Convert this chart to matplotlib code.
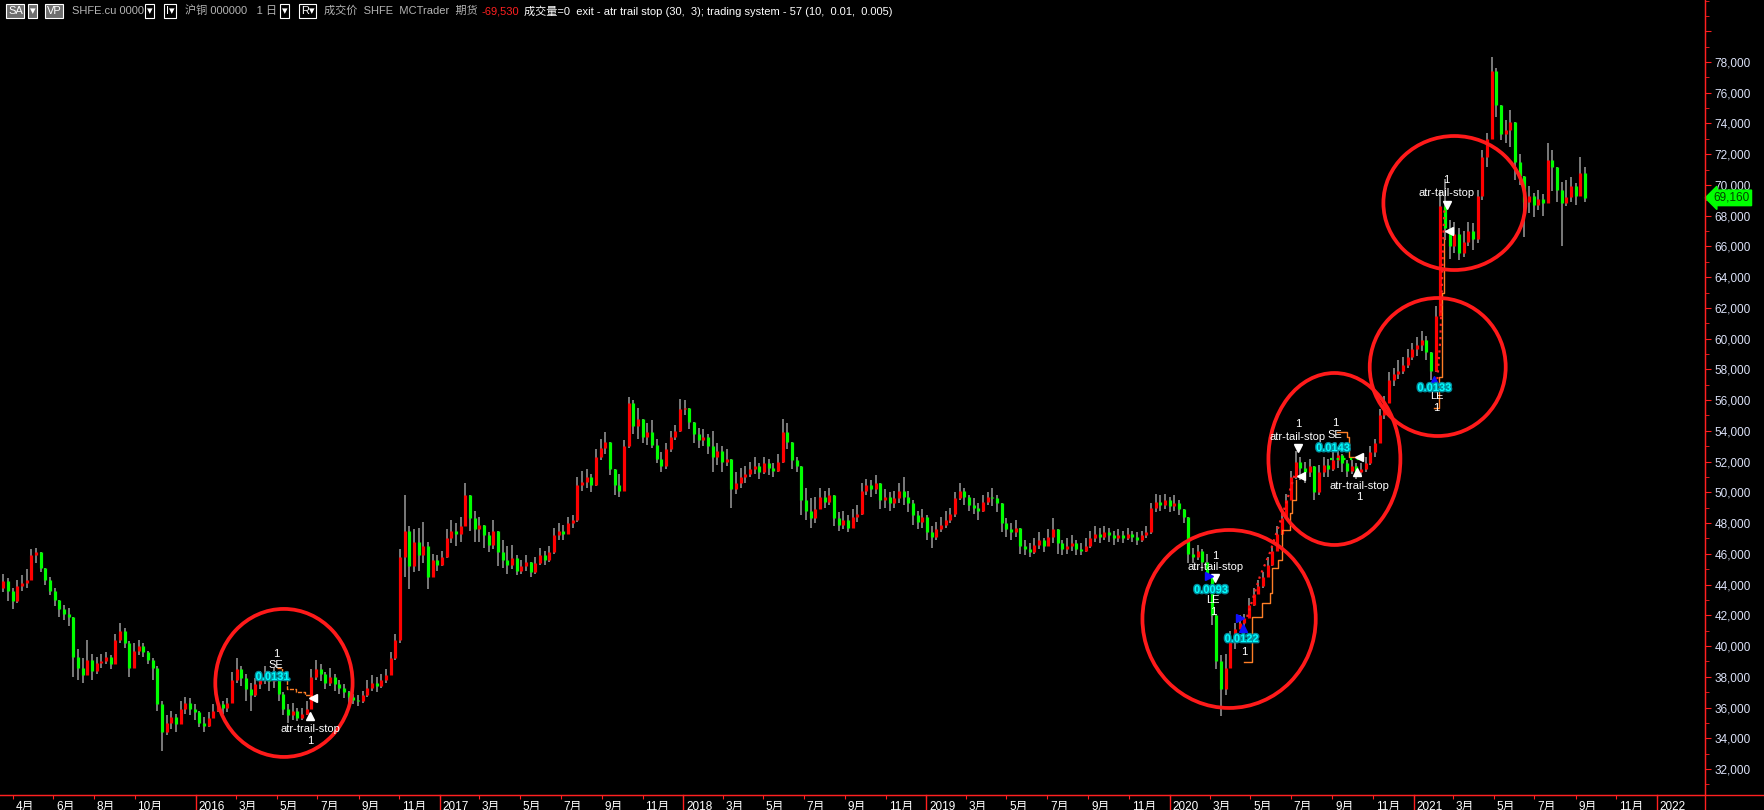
import numpy as np
import pandas as pd
import matplotlib
matplotlib.use('Agg')
import matplotlib.pyplot as plt
import matplotlib.dates as mdates
import matplotlib.transforms as mtransforms
import matplotlib.patheffects as pe
from matplotlib.patches import Ellipse
from matplotlib.lines import Line2D

plt.rcParams['font.family'] = ['Liberation Sans', 'Noto Sans CJK SC', 'DejaVu Sans']

# weekly SHFE copper bars (week ending Friday, from 2015-03-13)
closes = [
    43800, 44200, 43600, 42900, 43900, 44100, 44300, 45900, 46100, 45100,
    44300, 43600, 43000, 42400, 42100, 41900, 39300, 38600, 38100, 39100,
    38400, 38900, 39000, 39300, 38800, 40400, 41000, 40200, 38600, 39700,
    40000, 39600, 39100, 38600, 36200, 34400, 35000, 35400, 34900, 35900,
    36300, 35900, 35700, 35000, 34800, 35300, 35800, 36200, 36000, 36300,
    37800, 38500, 37900, 37200, 36800, 37500, 37900, 38300, 37700, 38100,
    36900, 35900, 35500, 35800, 35300, 35600, 35900, 38000, 38500, 38200,
    37600, 38000, 37500, 37300, 37000, 36700, 36500, 36400, 36800, 37300,
    37600, 37400, 37800, 38100, 39200, 40400, 45800, 47500, 45200, 46800,
    45900, 46500, 44500, 45600, 45300, 45800, 47000, 47500, 47300, 47800,
    49800, 48300, 47600, 47900, 47200, 46600, 47500, 46100, 45600, 45300,
    45700, 44900, 45200, 45500, 44800, 45400, 45900, 45600, 46100, 47200,
    47500, 47300, 48000, 48200, 50500, 50700, 51000, 50500, 52300, 52900,
    53300, 51500, 50500, 50100, 53000, 55800, 54300, 54800, 53600, 53900,
    53100, 52200, 51700, 52800, 53600, 54000, 55400, 55500, 54600, 53800,
    53400, 53600, 53000, 52300, 52700, 52000, 52200, 50200, 50600, 51000,
    51200, 51500, 51700, 51300, 51900, 51600, 51400, 52000, 53900, 53300,
    52100, 51700, 49500, 48800, 48300, 48900, 49700, 49400, 49800, 48300,
    47900, 48200, 47700, 48400, 48600, 50100, 50500, 50200, 50600, 49500,
    49700, 49300, 49600, 50100, 49700, 49300, 48500, 48100, 48400, 47400,
    47100, 47600, 47900, 48200, 48600, 49600, 50100, 49700, 49200, 49000,
    48800, 49400, 49700, 49600, 49300, 48000, 47600, 47400, 47700, 46500,
    46300, 46100, 46600, 46900, 46500, 47100, 47600, 46700, 46300, 46500,
    46700, 46300, 46200, 46500, 47000, 47300, 47100, 47400, 47200, 47000,
    47200, 47000, 47300, 47100, 46900, 47200, 47400, 49000, 49400, 49200,
    49500, 49100, 49300, 48900, 48400, 46000, 45800, 46200, 45500, 44600,
    42000, 39000, 37200, 38600, 40400, 41100, 41500, 41800, 42700, 43400,
    43900, 44500, 45300, 46200, 47300, 48300, 49500, 51000, 52000, 51600,
    51300, 51700, 50000, 51300, 51800, 51500, 52100, 52400, 51900, 51400,
    51700, 51300, 51500, 51900, 52600, 53200, 55000, 55800, 57300, 57700,
    57900, 58300, 58800, 59300, 59600, 59900, 59100, 57900, 61500, 68600,
    67200, 66000, 66800, 65600, 66300, 67000, 66500, 69300, 71800, 73000,
    77400, 75200, 73300, 73600, 74100, 71500, 70600, 68900, 69300, 68700,
    69100, 68800, 71600, 71200, 69700, 68800, 69200, 69900, 69300, 70800, 69160,
]
highs = [
    44500, 44700, 44400, 43800, 44300, 44600, 45000, 46300, 46400, 46000,
    45000, 44500, 43800, 42900, 42700, 42500, 41900, 39800, 39200, 40400,
    39500, 39300, 39500, 39600, 39400, 40800, 41500, 41200, 40300, 40200,
    40400, 40200, 39700, 39200, 38700, 36400, 35500, 35800, 35600, 36400,
    36700, 36600, 36200, 35800, 35400, 35700, 36200, 36500, 36400, 36600,
    38300, 39200, 38700, 38200, 37600, 37900, 38400, 38700, 38400, 38600,
    37700, 37000, 36200, 36300, 36000, 36000, 36400, 38500, 39100, 38800,
    38300, 38600, 38200, 37800, 37500, 37100, 36900, 36800, 37100, 37800,
    38100, 38000, 38200, 38500, 39600, 40800, 46300, 49800, 47800, 47600,
    47700, 48100, 46800, 46000, 45900, 46200, 47600, 48200, 48000, 48400,
    50600, 49600, 48800, 48400, 47900, 47400, 48200, 47000, 46900, 46500,
    46600, 45900, 45600, 45900, 45500, 45800, 46400, 46200, 46500, 47700,
    48000, 47900, 48400, 48500, 51000, 51400, 51500, 51200, 52800, 53500,
    53900, 53000, 51500, 51200, 53400, 56200, 56000, 55500, 54800, 54500,
    54700, 53500, 52600, 53200, 54000, 54400, 56100, 56000, 55200, 54500,
    54200, 54100, 53800, 54000, 53200, 53000, 52800, 51800, 51300, 51600,
    51700, 52000, 52300, 51900, 52300, 52200, 51900, 52500, 54800, 54500,
    52600, 52300, 51500, 50300, 49600, 49700, 50300, 50100, 50300, 49500,
    48700, 48800, 48500, 48900, 49200, 50600, 50900, 50800, 51100, 50500,
    50200, 50000, 50100, 50600, 51000, 50100, 49500, 48800, 48900, 48500,
    47800, 48100, 48400, 48800, 49000, 50000, 50600, 50300, 49800, 49600,
    49300, 49800, 50000, 50300, 49800, 48700, 48300, 48000, 48200, 47300,
    46900, 46700, 47000, 47400, 47000, 47600, 48300, 47500, 46900, 47000,
    47200, 46900, 46700, 47000, 47500, 47800, 47700, 47800, 47700, 47500,
    47600, 47500, 47700, 47500, 47400, 47500, 47800, 49300, 49900, 49800,
    49900, 49700, 49800, 49500, 48900, 46600, 46400, 46600, 46300, 46000,
    44500, 42100, 39400, 39500, 41000, 41500, 42000, 42100, 43100, 43800,
    44300, 44800, 45800, 46500, 47800, 48700, 49900, 51400, 52700, 52300,
    52000, 52200, 51300, 51800, 52300, 52200, 52700, 52800, 52500, 52100,
    52100, 51900, 51900, 52300, 53000, 53500, 55400, 56300, 57800, 58100,
    58600, 58800, 59300, 59700, 60100, 60500, 60200, 58900, 62100, 69700,
    70400, 67700, 67600, 67200, 67000, 67600, 67500, 69700, 72300, 73400,
    78300, 77600, 74500, 74200, 74900, 72800, 72000, 70300, 69900, 69500,
    69700, 69400, 72700, 72300, 70500, 70200, 70300, 70500, 70100, 71800, 71200,
]
lows = [
    43100, 43500, 42900, 42400, 42800, 43600, 43800, 44300, 45400, 44800,
    44000, 43300, 42600, 41900, 41700, 41300, 38000, 37800, 37600, 38200,
    37800, 38200, 38600, 38800, 38500, 38800, 40200, 39900, 38000, 38700,
    39400, 39300, 38800, 37800, 35800, 33200, 34200, 34600, 34400, 34900,
    35600, 35500, 35200, 34700, 34400, 34700, 35300, 35700, 35600, 35700,
    36300, 37600, 37400, 36400, 35800, 36700, 37200, 37500, 37100, 37300,
    36400, 35500, 35000, 35200, 35100, 35200, 35500, 36300, 37800, 37700,
    37200, 37400, 37100, 36900, 36600, 36300, 36200, 36100, 36300, 36700,
    37100, 37000, 37300, 37600, 38500, 39100, 40200, 44500, 43700, 44800,
    44900, 45400, 43700, 44500, 44900, 45200, 45700, 46700, 46500, 46800,
    48200, 47500, 46800, 46800, 46400, 46100, 46300, 45200, 45100, 44700,
    45000, 44600, 44700, 44900, 44500, 44700, 45300, 45300, 45500, 46000,
    46900, 46900, 47600, 47700, 48100, 50100, 50300, 50000, 50400, 52100,
    52500, 51100, 49800, 49700, 50800, 52900, 53800, 53500, 53200, 53100,
    52900, 51900, 51300, 51500, 52600, 53400, 53900, 55000, 54100, 53200,
    52900, 53000, 52500, 51300, 51800, 51300, 51700, 49000, 49900, 50300,
    50600, 51000, 51200, 50900, 51200, 51100, 51000, 51300, 51900, 52800,
    51500, 51300, 48500, 48200, 47700, 48000, 48900, 49000, 49200, 47800,
    47500, 47600, 47400, 47800, 48100, 48500, 49800, 49700, 49900, 48900,
    49000, 48800, 49000, 49300, 49200, 48700, 47900, 47600, 47700, 46900,
    46400, 46900, 47400, 47700, 48000, 48400, 49500, 49200, 48800, 48600,
    48200, 48700, 49200, 49100, 48700, 47400, 47100, 46900, 47100, 46000,
    45900, 45800, 46000, 46300, 46100, 46500, 46700, 46000, 45900, 46000,
    46200, 45900, 45900, 46100, 46400, 46800, 46700, 46900, 46800, 46600,
    46800, 46700, 46900, 46800, 46600, 46800, 47000, 47300, 48700, 48800,
    48900, 48700, 48800, 48500, 48000, 45400, 45400, 45600, 44900, 44300,
    41400, 38500, 35450, 36800, 38800, 39800, 41100, 41300, 42300, 42600,
    43400, 43800, 44700, 45200, 46200, 47200, 48400, 49600, 50900, 50800,
    50600, 51000, 49500, 49800, 51000, 51000, 51400, 51600, 51300, 51000,
    51200, 50900, 51000, 51300, 51800, 52300, 53300, 54800, 55800, 56900,
    57400, 57700, 58100, 58600, 58900, 59200, 58600, 57300, 57800, 61700,
    66400, 65200, 65600, 65100, 65300, 66000, 65800, 66200, 69000, 71200,
    73000, 74400, 72900, 72700, 72500, 70300, 70000, 66600, 68200, 67900,
    68400, 68000, 70100, 69600, 68900, 66000, 68600, 68900, 68700, 69400, 68900,
]
first_open = 43500
last_price = 69160

# trailing stop lines drawn by the strategy
stop_a_dates = ['2016-05-02', '2016-05-09', '2016-05-16', '2016-05-30', '2016-06-13', '2016-06-22']
stop_a_vals = [38600, 37900, 37200, 37000, 36800, 36600]
stop_b_dates = ['2020-04-22', '2020-05-04', '2020-05-19', '2020-05-30', '2020-06-03',
                '2020-06-11', '2020-06-18', '2020-06-29', '2020-07-03', '2020-07-09']
stop_b_vals = [38960, 41900, 42800, 43450, 45100, 45600, 47550, 48650, 49500, 50800]
trail_b_dates = ['2020-04-26', '2020-05-15', '2020-05-30', '2020-06-14', '2020-06-25', '2020-07-07']
trail_b_vals = [41900, 44500, 46050, 48000, 49500, 51250]
stop_c_dates = ['2020-09-08', '2020-09-23', '2020-09-26', '2020-10-17']
stop_c_vals = [53900, 53600, 52300, 52300]
trail_c_dates = ['2020-08-28', '2020-10-12']
trail_c_vals = [52200, 52200]
stop_d_dates = ['2021-02-01', '2021-02-08', '2021-02-12', '2021-02-16']
stop_d_vals = [55500, 57500, 63000, 66500]
trail_d_dates = ['2021-02-04', '2021-02-10', '2021-02-13', '2021-02-16']
trail_d_vals = [56500, 60000, 64500, 68500]

# highlighted trade regions (centre date, centre price, width days, height price)
circle_dates = ['2016-05-12', '2020-03-30', '2020-09-04', '2021-02-06', '2021-03-03']
circle_prices = [37600, 41760, 52170, 58155, 68825]
circle_widths = [206, 260, 198, 204, 213]
circle_heights = [9630, 11580, 11190, 8980, 8720]

# signal labels
white_texts = [
    ('2016-04-30', 39480, '1'), ('2016-04-30', 38770, 'SE'),
    ('2016-06-20', 34600, 'atr-trail-stop'), ('2016-06-20', 33820, '1'),
    ('2020-03-09', 45860, '1'), ('2020-03-09', 45140, 'atr-tail-stop'),
    ('2020-03-06', 43000, 'LE'), ('2020-03-06', 42210, '1'),
    ('2020-04-21', 39610, '1'),
    ('2020-07-11', 54450, '1'), ('2020-07-11', 53600, 'atr-tail-stop'),
    ('2020-09-05', 54510, '1'), ('2020-09-05', 53730, 'SE'),
    ('2020-10-11', 50410, 'atr-trail-stop'), ('2020-10-11', 49700, '1'),
    ('2021-02-04', 56270, 'LE'), ('2021-02-04', 55490, '1'),
    ('2021-02-19', 70320, '1'), ('2021-02-20', 69475, 'atr-tail-stop'),
]
cyan_texts = [
    ('2016-04-25', 37990, '0.0131'), ('2020-03-03', 43650, '0.0093'),
    ('2020-04-18', 40460, '0.0122'), ('2020-09-02', 52880, '0.0143'),
    ('2021-02-01', 56790, '0.0133'),
]
white_down = [('2020-03-09', 44430), ('2020-07-11', 52880), ('2021-02-20', 68690)]
white_up = [('2016-06-20', 35450), ('2020-10-08', 51320)]
white_left = [('2016-06-24', 36620), ('2020-07-16', 51060), ('2020-10-11', 52300), ('2021-02-23', 67000)]
blue_up = [('2020-04-20', 41170), ('2021-02-01', 57310)]
blue_right = [('2020-02-29', 44560), ('2020-04-15', 41820)]

tick_dates = ['2015-04-01', '2015-06-01', '2015-08-01', '2015-10-01',
              '2016-01-01', '2016-03-01', '2016-05-01', '2016-07-01', '2016-09-01', '2016-11-01',
              '2017-01-01', '2017-03-01', '2017-05-01', '2017-07-01', '2017-09-01', '2017-11-01',
              '2018-01-01', '2018-03-01', '2018-05-01', '2018-07-01', '2018-09-01', '2018-11-01',
              '2019-01-01', '2019-03-01', '2019-05-01', '2019-07-01', '2019-09-01', '2019-11-01',
              '2020-01-01', '2020-03-01', '2020-05-01', '2020-07-01', '2020-09-01', '2020-11-01',
              '2021-01-01', '2021-03-01', '2021-05-01', '2021-07-01', '2021-09-01', '2021-11-01',
              '2022-01-01']
tick_labels = ['4月', '6月', '8月', '10月',
               '2016', '3月', '5月', '7月', '9月', '11月',
               '2017', '3月', '5月', '7月', '9月', '11月',
               '2018', '3月', '5月', '7月', '9月', '11月',
               '2019', '3月', '5月', '7月', '9月', '11月',
               '2020', '3月', '5月', '7月', '9月', '11月',
               '2021', '3月', '5月', '7月', '9月', '11月',
               '2022']

W, H = 1765, 810
fig = plt.figure(figsize=(W / 100, H / 100), dpi=100, facecolor='black')
ax = fig.add_axes([0, 15 / H, 1705 / W, 795 / H], facecolor='black')

dates = pd.date_range('2015-03-13', periods=len(closes), freq='W-FRI')
x = mdates.date2num(dates) - 2
c = np.array(closes, float)
o = np.r_[first_open, c[:-1]]
hi = np.maximum(np.array(highs, float), np.maximum(o, c))
lo = np.minimum(np.array(lows, float), np.minimum(o, c))
up = c >= o

ax.vlines(x, lo, hi, color='#9a9a9a', lw=1.1)
ax.vlines(x[up], o[up], c[up], color='#ff0000', lw=2.3)
ax.vlines(x[~up], c[~up], o[~up], color='#00ff00', lw=2.3)

def dn(ds):
    return mdates.date2num(pd.to_datetime(ds))

ax.plot(dn(stop_a_dates), stop_a_vals, color='#ff7f27', lw=1, ls=(0, (3, 1)), drawstyle='steps-post')
ax.plot(dn(stop_b_dates), stop_b_vals, color='#ff7f27', lw=1, drawstyle='steps-post')
ax.plot(dn(trail_b_dates), trail_b_vals, color='#ff2020', lw=1.6, ls=(0, (1, 2)))
ax.plot(dn(stop_c_dates), stop_c_vals, color='#ff7f27', lw=1, drawstyle='steps-post')
ax.plot(dn(trail_c_dates), trail_c_vals, color='#00ff00', lw=1.6, ls=(0, (1, 2)))
ax.plot(dn(stop_d_dates), stop_d_vals, color='#ff7f27', lw=1, drawstyle='steps-post')
ax.plot(dn(trail_d_dates), trail_d_vals, color='#ff2020', lw=1.6, ls=(0, (1, 2)))

for d, p, w, h in zip(circle_dates, circle_prices, circle_widths, circle_heights):
    ax.add_patch(Ellipse((dn(d), p), w, h, fill=False, ec='#ff1a1a', lw=2.7, zorder=5))

for pts, mk, col in [(white_down, 'v', 'white'), (white_up, '^', 'white'),
                     (white_left, '<', 'white'), (blue_up, '^', '#1010ff'),
                     (blue_right, '>', '#1010ff')]:
    ax.plot([dn(d) for d, _ in pts], [p for _, p in pts], mk, color=col, ms=6, mec=col, ls='none', zorder=6)

for d, p, t in white_texts:
    ax.text(dn(d), p, t, color='white', fontsize=8, ha='center', va='center', zorder=7)
for d, p, t in cyan_texts:
    ax.text(dn(d), p, t, color='#00ffff', fontsize=8, fontweight='bold', ha='center', va='center', zorder=7,
            path_effects=[pe.withStroke(linewidth=2, foreground='#008c9c')])

ax.set_xlim(mdates.date2num(pd.Timestamp('2015-03-13')), mdates.date2num(pd.Timestamp('2022-03-14')))
ax.set_ylim(30308, 82034)

# price axis
ax.yaxis.tick_right()
ax.set_yticks(np.arange(32000, 80001, 2000))
ax.set_yticks(np.arange(31000, 82001, 1000), minor=True)
ax.set_yticklabels([f'{v:,}' if v < 80000 else '' for v in range(32000, 80001, 2000)])
ax.tick_params(axis='y', which='both', colors='#ff2020', labelcolor='#dce2f8', labelsize=8.5, length=4, pad=3)
ax.tick_params(axis='y', which='minor', length=3)

# time axis
ax.set_xticks(dn(tick_dates))
ax.set_xticklabels(tick_labels)
ax.tick_params(axis='x', colors='#ff2020', labelcolor='white', labelsize=8.5, length=3, pad=1)
shift = mtransforms.ScaledTranslation(2 / 72, 0, fig.dpi_scale_trans)
for lab in ax.get_xticklabels():
    lab.set_horizontalalignment('left')
    lab.set_transform(lab.get_transform() + shift)
tr = mtransforms.blended_transform_factory(ax.transData, ax.transAxes)
for d, t in zip(tick_dates, tick_labels):
    if not t.endswith('月'):
        ax.plot([dn(d), dn(d)], [0, -0.02], color='#ff2020', lw=1, transform=tr, clip_on=False)

for s in ['left', 'top']:
    ax.spines[s].set_visible(False)
for s in ['bottom', 'right']:
    ax.spines[s].set_color('#ff2020')
fig.add_artist(Line2D([0, 1], [15 / H, 15 / H], color='#ff2020', lw=1))
fig.add_artist(Line2D([1705 / W, 1705 / W], [0, 1], color='#ff2020', lw=1))

# last price tag
ty = mtransforms.blended_transform_factory(ax.transAxes, ax.transData)
ax.text(1.005, last_price, f'{last_price:,}', transform=ty, color='#004000', fontsize=8.5, va='center', ha='left',
        clip_on=False, bbox=dict(boxstyle='larrow,pad=0.15', fc='#00ff00', ec='#00ff00'), zorder=8)

# header strip
hy = 1 - 11 / H
def head(px, txt, col='#b4b4b4', box=None):
    kw = dict(color=col, fontsize=8, va='center', ha='left')
    if box:
        kw['bbox'] = dict(boxstyle='square,pad=0.15', fc=box, ec='white', lw=0.8)
    fig.text(px / W, hy, txt, **kw)

head(8, 'SA', 'white', '#6e6e6e')
head(30, '▾', 'white', '#6e6e6e')
head(47, 'VP', 'white', '#6e6e6e')
head(72, 'SHFE.cu 0000')
head(147, '▾', 'white', 'black')
head(166, 'I▾', 'white', 'black')
head(185, '沪铜 000000   1 日')
head(282, '▾', 'white', 'black')
head(301, 'R▾', 'white', 'black')
head(324, '成交价  SHFE  MCTrader  期货')
head(482, '-69,530', '#ff2020')
head(524, '成交量=0  exit - atr trail stop (30,  3); trading system - 57 (10,  0.01,  0.005)', 'white')

fig.savefig('out.png', dpi=100, facecolor='black')
